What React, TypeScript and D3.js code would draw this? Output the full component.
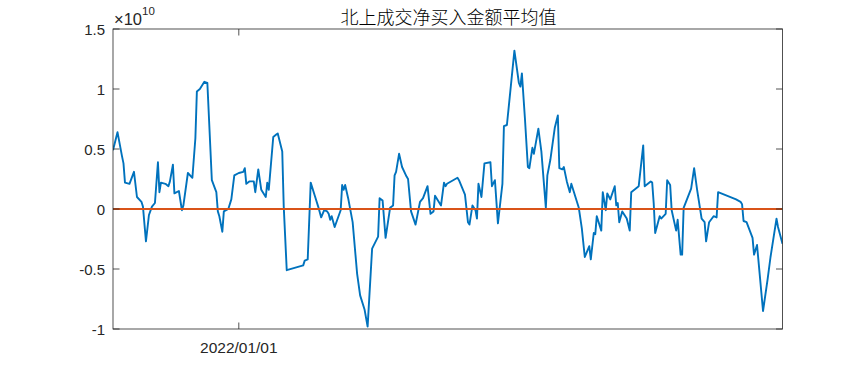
import React from "react";
import * as d3 from "d3";

// 北上成交净买入金额平均值 (unit: 1e10 yuan)
const dates: string[] = [
  "2021-10-09","2021-10-12","2021-10-15","2021-10-16","2021-10-17","2021-10-20","2021-10-23","2021-10-25","2021-10-28","2021-10-29",
  "2021-10-31","2021-11-02","2021-11-04","2021-11-06","2021-11-08","2021-11-09","2021-11-10","2021-11-13","2021-11-15","2021-11-16",
  "2021-11-18","2021-11-19","2021-11-22","2021-11-24","2021-11-25","2021-11-28","2021-12-01","2021-12-03","2021-12-04","2021-12-06",
  "2021-12-09","2021-12-11","2021-12-14","2021-12-17","2021-12-18","2021-12-19","2021-12-21","2021-12-22","2021-12-25","2021-12-27",
  "2021-12-29","2022-01-01","2022-01-04","2022-01-05","2022-01-06","2022-01-08","2022-01-11","2022-01-12","2022-01-14","2022-01-16",
  "2022-01-19","2022-01-20","2022-01-21","2022-01-24","2022-01-26","2022-01-27","2022-01-30","2022-01-31","2022-02-02","2022-02-13",
  "2022-02-14","2022-02-16","2022-02-18","2022-02-21","2022-02-23","2022-02-25","2022-02-27","2022-03-01","2022-03-02","2022-03-03",
  "2022-03-04","2022-03-06","2022-03-10","2022-03-11","2022-03-12","2022-03-13","2022-03-15","2022-03-18","2022-03-21","2022-03-23",
  "2022-03-26","2022-03-28","2022-03-31","2022-04-04","2022-04-05","2022-04-07","2022-04-09","2022-04-12","2022-04-14","2022-04-15",
  "2022-04-16","2022-04-18","2022-04-20","2022-04-23","2022-04-24","2022-04-26","2022-04-29","2022-05-02","2022-05-04","2022-05-07",
  "2022-05-09","2022-05-11","2022-05-12","2022-05-16","2022-05-18","2022-05-19","2022-05-20","2022-05-27","2022-05-28","2022-06-01",
  "2022-06-03","2022-06-04","2022-06-06","2022-06-08","2022-06-09","2022-06-10","2022-06-12","2022-06-14","2022-06-18","2022-06-19",
  "2022-06-21","2022-06-23","2022-06-26","2022-06-27","2022-06-29","2022-07-04","2022-07-07","2022-07-08","2022-07-09","2022-07-11",
  "2022-07-13","2022-07-14","2022-07-16","2022-07-17","2022-07-20","2022-07-22","2022-07-25","2022-07-26","2022-07-28","2022-07-31",
  "2022-08-02","2022-08-03","2022-08-05","2022-08-06","2022-08-08","2022-08-10","2022-08-11","2022-08-16","2022-08-18","2022-08-20",
  "2022-08-23","2022-08-24","2022-08-26","2022-08-27","2022-08-28","2022-08-31","2022-09-01","2022-09-03","2022-09-04","2022-09-06",
  "2022-09-09","2022-09-10","2022-09-11","2022-09-12","2022-09-14","2022-09-17","2022-09-19","2022-09-20","2022-09-25","2022-09-28",
  "2022-09-29","2022-10-03","2022-10-04","2022-10-05","2022-10-06","2022-10-09","2022-10-10","2022-10-13","2022-10-14","2022-10-16",
  "2022-10-17","2022-10-20","2022-10-21","2022-10-23","2022-10-24","2022-10-25","2022-10-30","2022-11-01","2022-11-03","2022-11-06",
  "2022-11-08","2022-11-09","2022-11-11","2022-11-14","2022-11-16","2022-11-17","2022-11-29","2022-12-02","2022-12-03","2022-12-04",
  "2022-12-06","2022-12-10","2022-12-11","2022-12-13","2022-12-17","2022-12-20","2022-12-22","2022-12-26","2022-12-27","2022-12-30",
];

const netBuyAvg: number[] = [
  0.49, 0.64, 0.44, 0.38, 0.22, 0.21, 0.31, 0.10, 0.06, 0.02,
  -0.27, -0.05, 0.02, 0.05, 0.39, 0.14, 0.22, 0.21, 0.19, 0.23,
  0.37, 0.13, 0.15, -0.01, 0.03, 0.30, 0.26, 0.59, 0.98, 1.00,
  1.06, 1.05, 0.24, 0.14, -0.02, -0.06, -0.19, -0.02, 0.00, 0.08,
  0.28, 0.30, 0.31, 0.34, 0.21, 0.23, 0.23, 0.14, 0.33, 0.16,
  0.10, 0.22, 0.16, 0.60, 0.62, 0.63, 0.48, 0.02, -0.51, -0.47,
  -0.43, -0.42, 0.22, 0.10, 0.02, -0.07, -0.01, -0.02, -0.04, -0.09,
  -0.06, -0.15, -0.01, 0.20, 0.16, 0.20, 0.09, -0.11, -0.54, -0.72,
  -0.84, -0.98, -0.33, -0.23, 0.09, 0.07, -0.24, 0.01, 0.03, 0.28,
  0.31, 0.46, 0.35, 0.27, 0.25, -0.02, -0.13, 0.06, 0.09, 0.19,
  -0.04, -0.02, 0.11, 0.03, 0.22, 0.19, 0.21, 0.26, 0.24, 0.12,
  -0.11, -0.13, 0.03, -0.01, -0.08, 0.21, 0.10, 0.38, 0.39, 0.19,
  0.24, -0.12, 0.21, 0.69, 0.70, 1.32, 1.05, 1.02, 1.13, 0.76,
  0.35, 0.34, 0.51, 0.46, 0.67, 0.48, 0.01, 0.28, 0.41, 0.68,
  0.78, 0.34, 0.33, 0.35, 0.23, 0.14, 0.21, 0.01, -0.16, -0.40,
  -0.31, -0.42, -0.20, -0.21, -0.06, -0.18, 0.14, -0.01, 0.13, 0.08,
  0.19, 0.03, 0.05, -0.11, -0.02, -0.08, -0.18, 0.14, 0.19, 0.53,
  0.19, 0.23, 0.22, 0.05, -0.20, -0.06, -0.08, -0.04, 0.24, 0.20,
  -0.01, -0.18, -0.09, -0.38, -0.38, 0.01, 0.17, 0.34, 0.16, -0.08,
  -0.11, -0.27, -0.11, -0.06, -0.07, 0.14, 0.08, 0.06, 0.04, -0.10,
  -0.11, -0.24, -0.38, -0.30, -0.85, -0.59, -0.40, -0.08, -0.15, -0.29,
];

const referenceLevel: number[] = [0];
const xDomain: string[] = ["2021-10-09", "2022-12-30"];
const yDomain: number[] = [-1, 1.5];
const yTicks: number[] = [1.5, 1, 0.5, 0, -0.5, -1];
const yTickLabels: string[] = ["1.5", "1", "0.5", "0", "-0.5", "-1"];
const xTicks: string[] = ["2022-01-01"];
const xTickLabels: string[] = ["2022/01/01"];
const exponentBase = "\u00d710";
const exponentPower = "10";
const title = "北上成交净买入金额平均值";

const W = 865;
const H = 371;
const M = { left: 113, right: 782.5, top: 29, bottom: 329 };

export default function App() {
  const parse = d3.timeParse("%Y-%m-%d");
  const x = d3
    .scaleTime()
    .domain(xDomain.map((d) => parse(d) as Date))
    .range([M.left, M.right]);
  const y = d3.scaleLinear().domain(yDomain).range([M.bottom, M.top]);

  const data = dates.map((d, i) => ({ date: parse(d) as Date, v: netBuyAvg[i] }));
  const line = d3
    .line<{ date: Date; v: number }>()
    .x((d) => x(d.date))
    .y((d) => y(d.v));

  const axisColor = "#262626";
  const font = "'Liberation Sans', Arial, Helvetica, sans-serif";
  const tickLen = 6.5;

  return (
    <svg
      width={W}
      height={H}
      viewBox={`0 0 ${W} ${H}`}
      style={{ position: "absolute", left: 0, top: 0, background: "#fff" }}
    >
      <rect x={0} y={0} width={W} height={H} fill="#fff" />
      <defs>
        <clipPath id="plotClip">
          <rect x={M.left} y={M.top} width={M.right - M.left} height={M.bottom - M.top} />
        </clipPath>
      </defs>

      {/* data */}
      <g clipPath="url(#plotClip)">
        <path d={line(data) || ""} fill="none" stroke="#0072BD" strokeWidth={1.9} strokeLinejoin="round" />
        {referenceLevel.map((r, i) => (
          <line key={i} x1={M.left} x2={M.right} y1={y(r)} y2={y(r)} stroke="#D95319" strokeWidth={1.9} />
        ))}
      </g>

      {/* box */}
      <rect
        x={M.left}
        y={M.top}
        width={M.right - M.left}
        height={M.bottom - M.top}
        fill="none"
        stroke={axisColor}
        strokeWidth={0.8}
      />

      {/* y ticks */}
      {yTicks.map((t, i) => (
        <g key={"y" + i}>
          <line x1={M.left} x2={M.left + tickLen} y1={y(t)} y2={y(t)} stroke={axisColor} strokeWidth={0.8} />
          <line x1={M.right} x2={M.right - tickLen} y1={y(t)} y2={y(t)} stroke={axisColor} strokeWidth={0.8} />
          <text
            x={M.left - 8}
            y={y(t)}
            textAnchor="end"
            dominantBaseline="central"
            fontFamily={font}
            fontSize={15}
            fill={axisColor}
          >
            {yTickLabels[i]}
          </text>
        </g>
      ))}

      {/* x ticks */}
      {xTicks.map((t, i) => {
        const xv = x(parse(t) as Date);
        return (
          <g key={"x" + i}>
            <line x1={xv} x2={xv} y1={M.bottom} y2={M.bottom - tickLen} stroke={axisColor} strokeWidth={0.8} />
            <line x1={xv} x2={xv} y1={M.top} y2={M.top + tickLen} stroke={axisColor} strokeWidth={0.8} />
            <text
              x={xv}
              y={M.bottom + 18}
              textAnchor="middle"
              dominantBaseline="central"
              fontFamily={font}
              fontSize={15.5}
              fill={axisColor}
            >
              {xTickLabels[i]}
            </text>
          </g>
        );
      })}

      {/* exponent */}
      <text x={M.left + 1} y={25} fontFamily={font} fontSize={16.5} fill={axisColor}>
        {exponentBase}
        <tspan fontSize={11.5} dy={-10}>
          {exponentPower}
        </tspan>
      </text>

      {/* title */}
      <text
        x={448.5}
        y={16}
        textAnchor="middle"
        dominantBaseline="central"
        fontFamily="'Noto Sans CJK SC', sans-serif"
        fontSize={18}
        fontWeight={300}
        fill="#000"
      >
        {title}
      </text>
    </svg>
  );
}
